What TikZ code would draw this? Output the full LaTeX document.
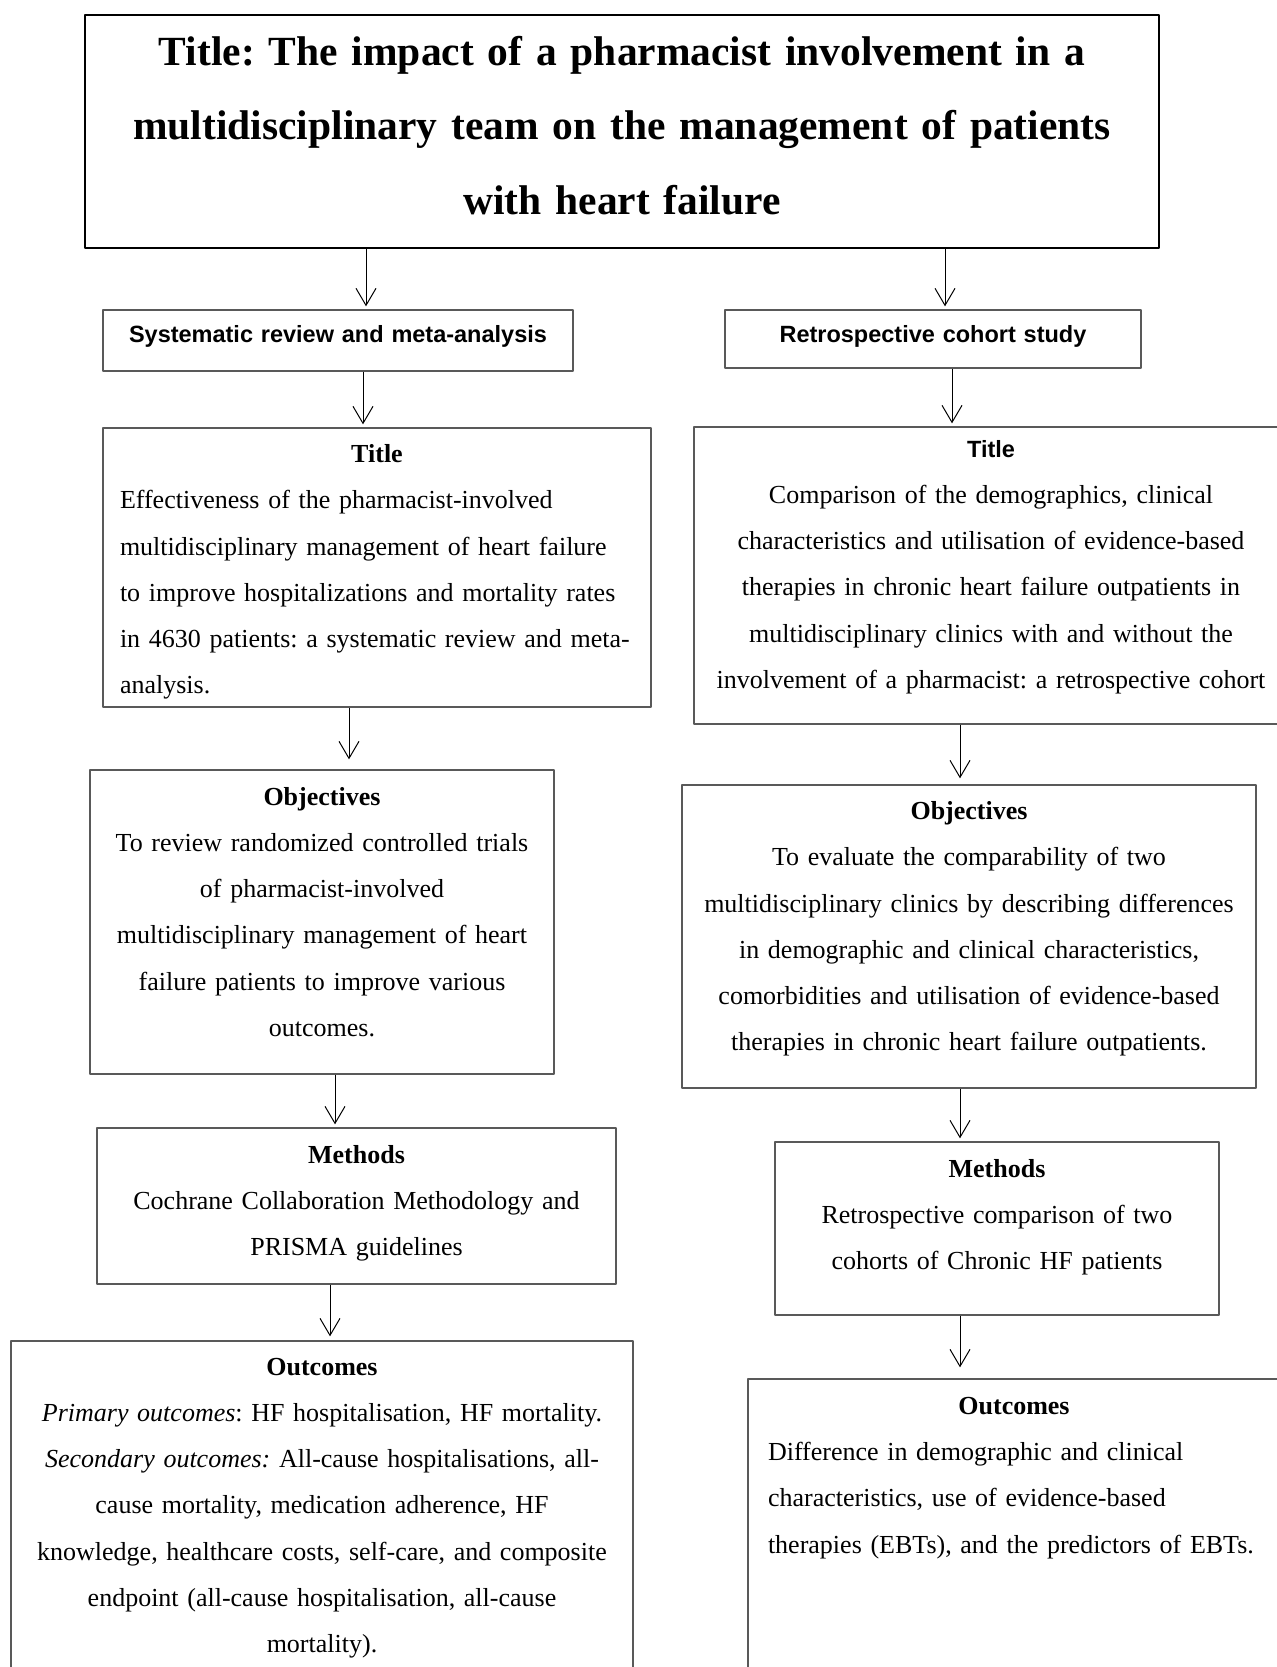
\documentclass[tikz,border=0pt]{standalone}
\usepackage{fontspec}
\setmainfont{Liberation Serif}
\setsansfont{Liberation Sans}
\usetikzlibrary{arrows.meta}
\frenchspacing
\newcommand{\boxhead}[1]{{\fontsize{23.5bp}{46.25bp}\selectfont\sffamily\bfseries #1}}
\newcommand{\liftby}[1]{\endgraf\vspace*{#1}\hrule height 0pt}

\begin{document}
\begin{tikzpicture}[>={Straight Barb[length=17bp,width=20bp]},line join=bevel,
  frame/.style={draw=black!65,line width=1.3bp,inner sep=0pt,align=center,
    font=\fontsize{26bp}{46.25bp}\selectfont},
  lift/.style={execute at end node={\liftby{#1}}},
  link/.style={black,line width=1bp,->,shorten >=3bp}]
%%
\useasboundingbox[fill=white] (0bp,0bp) rectangle (1277bp,1667bp);
\node (main_title) at (622bp,1535.5bp) [frame,draw=black,line width=2.6bp,minimum width=1074bp,minimum height=233bp,text width=1040bp,lift=12bp,font=\fontsize{41.5bp}{74.5bp}\selectfont\bfseries] {Title: The impact of a pharmacist involvement in a\\ multidisciplinary team on the management of patients\\ with heart failure};
%
\node (review) at (338bp,1326.5bp) [frame,minimum width=470bp,minimum height=61bp,text width=450bp,lift=9bp,font=\fontsize{23.5bp}{28bp}\selectfont\sffamily\bfseries] {Systematic review and meta-analysis};
  \node (cohort) at (933bp,1328bp) [frame,minimum width=416bp,minimum height=58bp,text width=400bp,lift=6bp,font=\fontsize{23.5bp}{28bp}\selectfont\sffamily\bfseries] {Retrospective cohort study};
%
\node (review_title) at (377bp,1099.5bp) [frame,align=left,minimum width=548bp,minimum height=279bp,text width=514bp,lift=-9bp] {\makebox[\linewidth]{\textbf{Title}}\\ Effectiveness of the pharmacist-involved\\ multidisciplinary management of heart failure\\ to improve hospitalizations and mortality rates\\ in 4630 patients: a systematic review and meta-\\ analysis.};
  \node (cohort_title) at (991bp,1091.5bp) [frame,minimum width=594bp,minimum height=297bp,text width=570bp,lift=17bp] {\boxhead{Title}\\ Comparison of the demographics, clinical\\ characteristics and utilisation of evidence-based\\ therapies in chronic heart failure outpatients in\\ multidisciplinary clinics with and without the\\ involvement of a pharmacist: a retrospective cohort};
%
\node (review_aims) at (322bp,745bp) [frame,minimum width=464bp,minimum height=304bp,text width=440bp,lift=20bp] {\textbf{Objectives}\\ To review randomized controlled trials\\ of pharmacist-involved\\ multidisciplinary management of heart\\ failure patients to improve various\\ outcomes.};
  \node (cohort_aims) at (969bp,730.5bp) [frame,minimum width=574bp,minimum height=303bp,text width=550bp,lift=15bp] {\textbf{Objectives}\\ To evaluate the comparability of two\\ multidisciplinary clinics by describing differences\\ in demographic and clinical characteristics,\\ comorbidities and utilisation of evidence-based\\ therapies in chronic heart failure outpatients.};
%
\node (review_methods) at (356.5bp,461bp) [frame,minimum width=519bp,minimum height=156bp,text width=495bp,lift=5bp] {\textbf{Methods}\\ Cochrane Collaboration Methodology and\\ PRISMA guidelines};
  \node (cohort_methods) at (997bp,438.5bp) [frame,minimum width=444bp,minimum height=173bp,text width=420bp,lift=22bp] {\textbf{Methods}\\ Retrospective comparison of two\\ cohorts of Chronic HF patients};
%
\node (review_outcomes) at (322bp,151.5bp) [frame,minimum width=622bp,minimum height=349bp,text width=600bp,lift=15bp] {\textbf{Outcomes}\\ \textit{Primary outcomes}: HF hospitalisation, HF mortality.\\ \textit{Secondary outcomes:} All-cause hospitalisations, all-\\ cause mortality, medication adherence, HF\\ knowledge, healthcare costs, self-care, and composite\\ endpoint (all-cause hospitalisation, all-cause\\ mortality).};
  \node (cohort_outcomes) at (1014bp,132.5bp) [frame,align=left,minimum width=532bp,minimum height=311bp,text width=492bp,lift=113bp] {\makebox[\linewidth]{\textbf{Outcomes}}\\ Difference in demographic and clinical\\ characteristics, use of evidence-based\\ therapies (EBTs), and the predictors of EBTs.};
%
\draw [link] ([xshift=28bp]review.north |- main_title.south) -- ([xshift=28bp]review.north);
\draw [link] ([xshift=12bp]cohort.north |- main_title.south) -- ([xshift=12bp]cohort.north);
\draw [link] ([xshift=-14bp]review_title.north |- review.south) -- ([xshift=-14bp]review_title.north);
\draw [link] ([xshift=-39bp]cohort_title.north |- cohort.south) -- ([xshift=-39bp]cohort_title.north);
\draw [link,shorten >=10bp] ([xshift=27bp]review_aims.north |- review_title.south) -- ([xshift=27bp]review_aims.north);
\draw [link,shorten >=6bp] ([xshift=-9bp]cohort_aims.north |- cohort_title.south) -- ([xshift=-9bp]cohort_aims.north);
\draw [link] ([xshift=-21.5bp]review_methods.north |- review_aims.south) -- ([xshift=-21.5bp]review_methods.north);
\draw [link] ([xshift=-37bp]cohort_methods.north |- cohort_aims.south) -- ([xshift=-37bp]cohort_methods.north);
\draw [link,shorten >=4bp] ([xshift=8bp]review_outcomes.north |- review_methods.south) -- ([xshift=8bp]review_outcomes.north);
\draw [link,shorten >=11bp] ([xshift=-54bp]cohort_outcomes.north |- cohort_methods.south) -- ([xshift=-54bp]cohort_outcomes.north);
%
\end{tikzpicture}
\end{document}
